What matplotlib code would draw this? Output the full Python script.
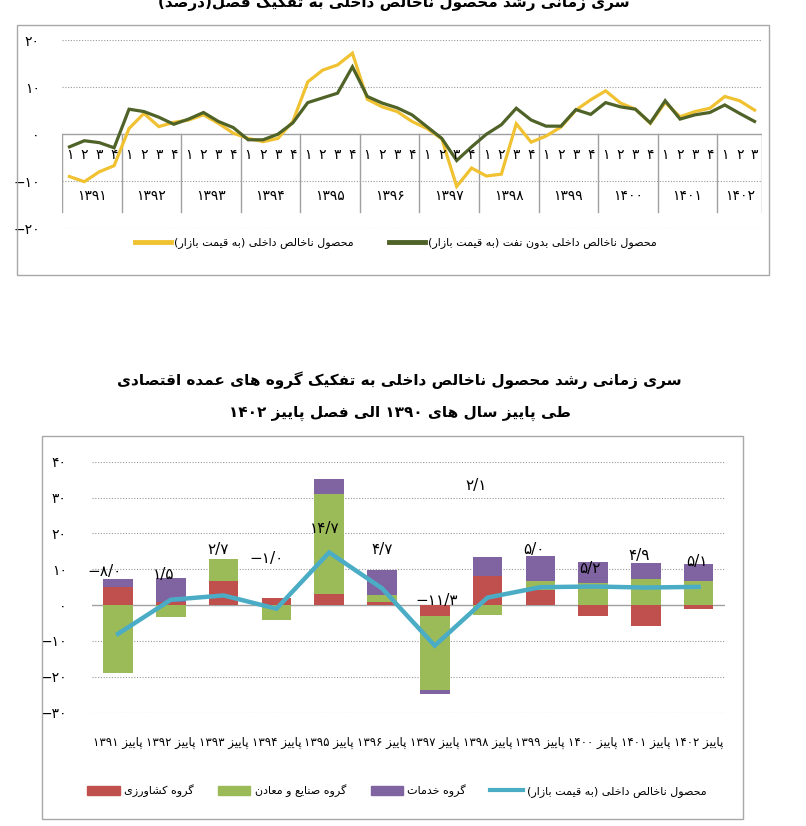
import re
import matplotlib
matplotlib.use("Agg")
import matplotlib.pyplot as plt
from matplotlib.lines import Line2D
from matplotlib.patches import Patch, Rectangle

# ---- data ----
years_top = ['1391', '1392', '1393', '1394', '1395', '1396',
             '1397', '1398', '1399', '1400', '1401', '1402']
quarters_top = ['1', '2', '3', '4']

gdp_market = [-9.0, -10.1, -8.0, -6.7,
              1.2, 4.4, 1.6, 2.5,
              3.0, 4.1, 2.3, 0.2,
              -0.9, -1.6, -0.9, 2.7,
              11.1, 13.6, 14.7, 17.2,
              7.4, 5.8, 4.8, 2.7,
              1.2, -1.0, -11.1, -7.2,
              -8.9, -8.5, 2.2, -1.7,
              -0.4, 1.5, 5.1, 7.3,
              9.2, 6.6, 5.3, 2.3,
              6.7, 3.7, 4.8, 5.5,
              8.0, 7.1, 5.1]

gdp_nonoil = [-2.7, -1.4, -1.8, -2.9,
              5.3, 4.8, 3.6, 2.1,
              3.2, 4.6, 2.7, 1.4,
              -1.2, -1.2, 0.0, 2.4,
              6.7, 7.7, 8.7, 14.3,
              8.0, 6.6, 5.6, 4.1,
              1.6, -0.9, -5.6, -2.7,
              0.0, 2.0, 5.5, 3.0,
              1.7, 1.7, 5.2, 4.2,
              6.7, 5.8, 5.3, 2.4,
              7.1, 3.2, 4.1, 4.6,
              6.2, 4.4, 2.7]

seasons = ['پاییز 1391', 'پاییز 1392', 'پاییز 1393', 'پاییز 1394',
           'پاییز 1395', 'پاییز 1396', 'پاییز 1397', 'پاییز 1398',
           'پاییز 1399', 'پاییز 1400', 'پاییز 1401', 'پاییز 1402']
agri = [5.1, 1.0, 6.8, 2.1, 3.1, 0.9, -3.1, 8.2, 4.2, -3.1, -5.8, -1.1]
industry = [-19.0, -3.4, 6.2, -4.2, 27.8, 1.9, -20.6, -2.8, 2.5, 6.2, 7.4, 6.8]
services = [2.1, 6.7, 0.0, 0.0, 4.4, 7.1, -1.2, 5.2, 7.0, 5.7, 4.3, 4.6]
gdp_total = [-8.0, 1.5, 2.7, -1.0, 14.7, 4.7, -11.3, 2.1, 5.0, 5.2, 4.9, 5.1]

# where the value labels sit (x shift from bar, y in data units)
label_pos = [(-0.26, 9.3), (-0.14, 8.6), (-0.10, 15.6), (-0.19, 13.1),
             (-0.09, 21.4), (0.0, 15.6), (0.03, 1.2), (-0.21, 33.4),
             (-0.12, 15.6), (-0.06, 10.3), (-0.13, 13.9), (-0.03, 12.3)]

# ---- minimal persian shaping (matplotlib has no text shaping) ----
FORMS = {
    'ا': (0xFE8D, 0xFE8E), 'آ': (0xFE81, 0xFE82),
    'ب': (0xFE8F, 0xFE90, 0xFE91, 0xFE92), 'پ': (0xFB56, 0xFB57, 0xFB58, 0xFB59),
    'ت': (0xFE95, 0xFE96, 0xFE97, 0xFE98), 'ث': (0xFE99, 0xFE9A, 0xFE9B, 0xFE9C),
    'ج': (0xFE9D, 0xFE9E, 0xFE9F, 0xFEA0), 'چ': (0xFB7A, 0xFB7B, 0xFB7C, 0xFB7D),
    'ح': (0xFEA1, 0xFEA2, 0xFEA3, 0xFEA4), 'خ': (0xFEA5, 0xFEA6, 0xFEA7, 0xFEA8),
    'د': (0xFEA9, 0xFEAA), 'ذ': (0xFEAB, 0xFEAC), 'ر': (0xFEAD, 0xFEAE),
    'ز': (0xFEAF, 0xFEB0), 'ژ': (0xFB8A, 0xFB8B),
    'س': (0xFEB1, 0xFEB2, 0xFEB3, 0xFEB4), 'ش': (0xFEB5, 0xFEB6, 0xFEB7, 0xFEB8),
    'ص': (0xFEB9, 0xFEBA, 0xFEBB, 0xFEBC), 'ض': (0xFEBD, 0xFEBE, 0xFEBF, 0xFEC0),
    'ط': (0xFEC1, 0xFEC2, 0xFEC3, 0xFEC4), 'ظ': (0xFEC5, 0xFEC6, 0xFEC7, 0xFEC8),
    'ع': (0xFEC9, 0xFECA, 0xFECB, 0xFECC), 'غ': (0xFECD, 0xFECE, 0xFECF, 0xFED0),
    'ف': (0xFED1, 0xFED2, 0xFED3, 0xFED4), 'ق': (0xFED5, 0xFED6, 0xFED7, 0xFED8),
    'ک': (0xFB8E, 0xFB8F, 0xFB90, 0xFB91), 'گ': (0xFB92, 0xFB93, 0xFB94, 0xFB95),
    'ل': (0xFEDD, 0xFEDE, 0xFEDF, 0xFEE0), 'م': (0xFEE1, 0xFEE2, 0xFEE3, 0xFEE4),
    'ن': (0xFEE5, 0xFEE6, 0xFEE7, 0xFEE8), 'و': (0xFEED, 0xFEEE),
    'ه': (0xFEE9, 0xFEEA, 0xFEEB, 0xFEEC), 'ی': (0xFBFC, 0xFBFD, 0xFBFE, 0xFBFF),
}
FA_DIGITS = str.maketrans('0123456789', '۰۱۲۳۴۵۶۷۸۹')


def fa(text):
    text = text.translate(FA_DIGITS)
    out = []
    for i, ch in enumerate(text):
        if ch not in FORMS:
            out.append(ch)
            continue
        forms = FORMS[ch]
        prev = text[i - 1] if i > 0 else ''
        nxt = text[i + 1] if i + 1 < len(text) else ''
        jp = prev in FORMS and len(FORMS[prev]) == 4
        jn = len(forms) == 4 and nxt in FORMS
        if jp and jn:
            out.append(chr(forms[3]))
        elif jp:
            out.append(chr(forms[1]))
        elif jn:
            out.append(chr(forms[2]))
        else:
            out.append(chr(forms[0]))
    tokens = re.findall(r'[۰-۹/.]+|.', ''.join(out))
    mirror = {'(': ')', ')': '('}
    return ''.join(mirror.get(t, t) for t in reversed(tokens))


def fa_num(v, fmt='{:.0f}'):
    s = fmt.format(abs(v)).replace('.', '/').translate(FA_DIGITS)
    return ('\u2212' + s) if v < 0 else s


plt.rcParams['font.family'] = ['DejaVu Sans']

W, H = 806, 826
fig = plt.figure(figsize=(W / 100, H / 100), dpi=100)


def box(x0, y0, x1, y1):
    return [x0 / W, 1 - y1 / H, (x1 - x0) / W, (y1 - y0) / H]


yellow = '#F0C232'
olive = '#4F6228'
grid_c = '#9a9a9a'

# ---- top chart ----
fig.add_artist(Rectangle((17 / W, 1 - 275 / H), 752 / W, 250 / H,
                         transform=fig.transFigure, fill=False, ec='#a8a8a8', lw=1))
fig.text(394 / W, 1 - 3 / H, fa('سری زمانی رشد محصول ناخالص داخلی به تفکیک فصل(درصد)'),
         ha='center', va='center', fontsize=11, fontweight='bold')

ax1 = fig.add_axes(box(62, 40, 762, 228.3))
n = len(gdp_market)
xs = list(range(n))
ax1.plot(xs, gdp_market, color=yellow, lw=2.3, solid_joinstyle='miter')
ax1.plot(xs, gdp_nonoil, color=olive, lw=2.3, solid_joinstyle='miter')
ax1.set_xlim(-0.5, n - 0.5)
ax1.set_ylim(-20, 20)
ax1.set_yticks([20, 10, 0, -10, -20])
ax1.set_yticklabels([fa_num(v) for v in [20, 10, 0, -10, -20]])
ax1.tick_params(axis='y', length=0, pad=16, labelsize=10)
ax1.set_xticks([])
for s in ax1.spines.values():
    s.set_visible(False)
for v in [20, 10, -10, -20]:
    ax1.axhline(v, color=grid_c, lw=0.8, ls=(0, (1, 1.5)), zorder=0)
ax1.axhline(0, color='#a0a0a0', lw=1.0, zorder=1)
# category table under the zero line
for k in range(len(years_top) + 1):
    xb = min(k * 4, n) - 0.5
    ax1.plot([xb, xb], [0, -16.5], color='#a0a0a0', lw=1.0, zorder=1)
for i in xs:
    ax1.text(i, -4.4, fa(quarters_top[i % 4]), ha='center', va='center', fontsize=10)
for k, y in enumerate(years_top):
    first = k * 4
    last = min(first + 3, n - 1)
    ax1.text((first + last) / 2, -13.2, fa(y), ha='center', va='center', fontsize=10)

h1 = [Line2D([], [], color=yellow, lw=3.5), Line2D([], [], color=olive, lw=3.5)]
fig.legend(h1, [fa('محصول ناخالص داخلی (به قیمت بازار)'),
                fa('محصول ناخالص داخلی بدون نفت (به قیمت بازار)')],
           loc='center', bbox_to_anchor=(396 / W, 1 - 243 / H), ncol=2,
           frameon=False, fontsize=8, handlelength=3.2, handletextpad=0.3,
           columnspacing=3.2)

# ---- bottom chart ----
red = '#C0504D'
green = '#9BBB59'
purple = '#8064A2'
cyan = '#4BACC6'

fig.add_artist(Rectangle((42 / W, 1 - 819 / H), 701 / W, 383 / H,
                         transform=fig.transFigure, fill=False, ec='#a8a8a8', lw=1))
fig.text(399 / W, 1 - 380 / H,
         fa('سری زمانی رشد محصول ناخالص داخلی به تفکیک گروه های عمده اقتصادی'),
         ha='center', va='center', fontsize=11, fontweight='bold')
fig.text(400 / W, 1 - 413 / H, fa('طی پاییز سال های 1390 الی فصل پاییز 1402'),
         ha='center', va='center', fontsize=11, fontweight='bold')

ax2 = fig.add_axes(box(91.7, 461.7, 725, 712.7))
m = len(seasons)
xb = list(range(m))
pos_base = [0.0] * m
neg_base = [0.0] * m
for vals, col in [(agri, red), (industry, green), (services, purple)]:
    bottoms = []
    for i, v in enumerate(vals):
        if v >= 0:
            bottoms.append(pos_base[i])
            pos_base[i] += v
        else:
            bottoms.append(neg_base[i])
            neg_base[i] += v
    ax2.bar(xb, vals, bottom=bottoms, width=0.56, color=col, zorder=2)
ax2.plot(xb, gdp_total, color=cyan, lw=3.2, zorder=3, solid_joinstyle='miter')
for i, v in enumerate(gdp_total):
    dx, ly = label_pos[i]
    ax2.text(i + dx, ly, fa_num(v, '{:.1f}'), ha='center', va='center', fontsize=11, zorder=4)

ax2.set_xlim(-0.5, m - 0.5)
ax2.set_ylim(-30, 40)
ticks2 = [40, 30, 20, 10, 0, -10, -20, -30]
ax2.set_yticks(ticks2)
ax2.set_yticklabels([fa_num(v) for v in ticks2])
ax2.tick_params(axis='y', length=0, pad=18, labelsize=10)
ax2.set_xticks(xb)
ax2.set_xticklabels([fa(s) for s in seasons], fontsize=8.5)
ax2.tick_params(axis='x', length=0, pad=17)
for s in ax2.spines.values():
    s.set_visible(False)
for v in ticks2:
    if v != 0:
        ax2.axhline(v, color=grid_c, lw=0.8, ls=(0, (1, 1.5)), zorder=0)
ax2.axhline(0, color='#a0a0a0', lw=1.0, zorder=1)

h2 = [Patch(color=red), Patch(color=green), Patch(color=purple),
      Line2D([], [], color=cyan, lw=3)]
fig.legend(h2, [fa('گروه کشاورزی'), fa('گروه صنایع و معادن'), fa('گروه خدمات'),
                fa('محصول ناخالص داخلی (به قیمت بازار)')],
           loc='center', bbox_to_anchor=(397 / W, 1 - 791 / H), ncol=4,
           frameon=False, fontsize=8, handlelength=2.9, handleheight=0.8,
           handletextpad=0.4, columnspacing=2.2)

fig.savefig('out.png', dpi=100)
